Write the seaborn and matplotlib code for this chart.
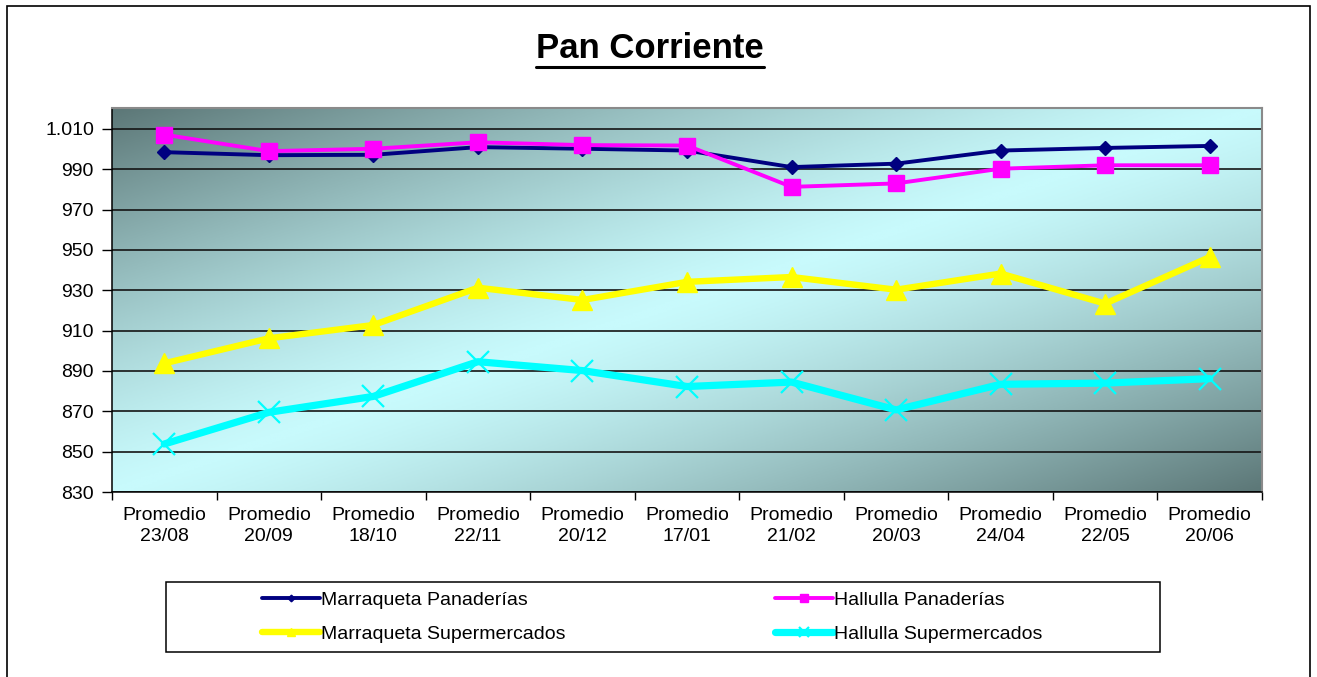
"""
plot.py — Pan Corriente: precio promedio por tipo de pan y canal
"""

import numpy as np
import pandas as pd
import matplotlib.pyplot as plt
import matplotlib.ticker as mticker
from matplotlib.colors import LinearSegmentedColormap
from matplotlib.patches import Rectangle
from matplotlib.lines import Line2D
import seaborn as sns

FECHAS = ["23/08", "20/09", "18/10", "22/11", "20/12", "17/01",
          "21/02", "20/03", "24/04", "22/05", "20/06"]

marraqueta_pan = [998.5, 997.0, 997.2, 1001.0, 1000.2, 999.3,
                  991.1, 992.8, 999.3, 1000.6, 1001.6]
hallulla_pan = [1007.2, 999.0, 1000.2, 1003.4, 1002.0, 1001.8,
                981.3, 983.0, 990.3, 992.0, 992.0]
marraqueta_super = [893.8, 906.2, 912.8, 931.3, 925.2, 934.2,
                    936.6, 930.3, 938.3, 923.4, 946.5]
hallulla_super = [853.8, 869.5, 877.4, 894.6, 890.2, 882.3,
                  884.5, 870.7, 883.4, 884.0, 886.2]

SERIES = {
    "Marraqueta Panaderías": marraqueta_pan,
    "Hallulla Panaderías": hallulla_pan,
    "Marraqueta Supermercados": marraqueta_super,
    "Hallulla Supermercados": hallulla_super,
}
# color, marker, markersize, linewidth, marker edge width
STYLE = {
    "Marraqueta Panaderías": ("#000080", "D", 7.5, 2.8, 1.0),
    "Hallulla Panaderías": ("#FF00FF", "s", 12, 2.8, 1.0),
    "Marraqueta Supermercados": ("#FFFF00", "^", 14, 4.6, 1.0),
    "Hallulla Supermercados": ("#00FFFF", "x", 16, 5.2, 1.6),
}

sns.set_theme(style="white")
plt.rcParams["font.family"] = ["Liberation Sans", "DejaVu Sans"]
plt.rcParams["text.color"] = "black"
plt.rcParams["xtick.color"] = "black"
plt.rcParams["ytick.color"] = "black"

W, H = 1317, 677
fig = plt.figure(figsize=(W / 100, H / 100), dpi=100)
ax = fig.add_axes([112 / W, 1 - 492 / H, (1262 - 112) / W, (492 - 108) / H])

# diagonal gradient background (dark corners top-left / bottom-right)
gx, gy = np.meshgrid(np.linspace(0, 1, 500), np.linspace(1, 0, 250))
w = np.clip(np.abs(gx - gy), 0, 1) ** 1.3
bg_cmap = LinearSegmentedColormap.from_list("bg", ["#c8fafc", "#5c7777"])
ax.imshow(w, cmap=bg_cmap, extent=[0, 1, 0, 1], transform=ax.transAxes,
          aspect="auto", zorder=0, interpolation="bilinear")

x = np.arange(len(FECHAS))
for name, vals in SERIES.items():
    col, mk, ms, lw, mew = STYLE[name]
    df = pd.DataFrame({"pos": x, "precio": vals})
    sns.lineplot(data=df, x="pos", y="precio", ax=ax, color=col,
                 marker=mk, markersize=ms, linewidth=lw,
                 markeredgecolor=col, markeredgewidth=mew,
                 label=name, legend=False)
if ax.get_legend():
    ax.get_legend().remove()

ax.set_xlim(-0.5, len(FECHAS) - 0.5)
ax.set_ylim(830, 1020.4)
ax.set_xlabel("")
ax.set_ylabel("")

ax.set_yticks(np.arange(830, 1011, 20))
ax.yaxis.set_major_formatter(mticker.FuncFormatter(
    lambda v, _: f"{int(v):,}".replace(",", ".")))
ax.set_xticks(x)
ax.set_xticklabels([f"Promedio\n{f}" for f in FECHAS], linespacing=1.25)
ax.set_xticks(np.arange(-0.5, len(FECHAS)), minor=True)
ax.tick_params(axis="x", which="major", length=0, pad=11,
               labelsize=14, labelcolor="black")
ax.tick_params(axis="x", which="minor", length=6, width=1,
               direction="out", color="black", bottom=True)
ax.tick_params(axis="y", length=7, width=1, direction="out",
               color="black", left=True, labelsize=14, pad=6,
               labelcolor="black")

ax.yaxis.grid(True, color="#151515", linewidth=1.2)
ax.xaxis.grid(False)
ax.set_axisbelow(True)
for side in ["left", "bottom"]:
    ax.spines[side].set_color("black")
    ax.spines[side].set_linewidth(1.1)
for side in ["top", "right"]:
    ax.spines[side].set_color("#8a8a8a")
    ax.spines[side].set_linewidth(1.5)

# title with underline
title = fig.text(650 / W, 1 - 48 / H, "Pan Corriente", ha="center",
                 va="center", fontsize=25, fontweight="bold", color="black")
fig.canvas.draw()
bb = title.get_window_extent()
fig.add_artist(Line2D([bb.x0 / W, bb.x1 / W], [(bb.y0 - 2) / H] * 2,
                      transform=fig.transFigure, color="black", lw=2.2))

# legend in a separate box, two columns as two legends
handles, labels = ax.get_legend_handles_labels()
hmap = dict(zip(labels, handles))
fig.add_artist(Rectangle((166 / W, 1 - 652 / H), (1160 - 166) / W, 70 / H,
                         transform=fig.transFigure, fill=False,
                         edgecolor="black", linewidth=1.1))
leg_kw = dict(loc="center left", frameon=False, fontsize=14,
              handlelength=3.0, handletextpad=0.05, borderpad=0,
              borderaxespad=0, labelspacing=0.85, markerscale=0.45)
for x0, names in [(262, ["Marraqueta Panaderías", "Marraqueta Supermercados"]),
                  (775, ["Hallulla Panaderías", "Hallulla Supermercados"])]:
    leg = fig.legend([hmap[n] for n in names], names,
                     bbox_to_anchor=(x0 / W, 1 - 617 / H), **leg_kw)
    for t in leg.get_texts():
        t.set_color("black")

# outer chart border
fig.add_artist(Rectangle((7 / W, -0.02), (1310 - 7) / W, 1.02 - 6 / H,
                         transform=fig.transFigure, fill=False,
                         edgecolor="black", linewidth=1.2))

plt.savefig("out.png", dpi=100)
plt.close()
